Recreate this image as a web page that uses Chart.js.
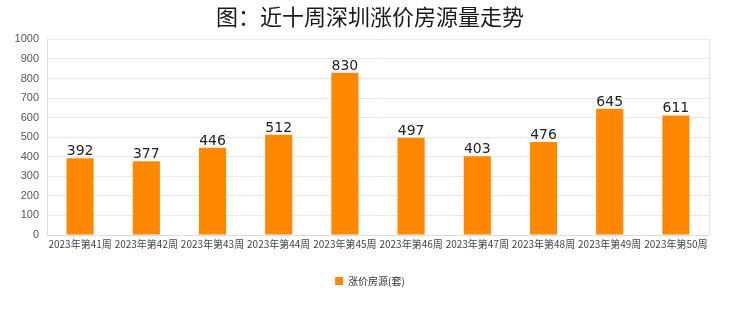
<!DOCTYPE html>
<html><head><meta charset="utf-8">
<script src="https://cdn.jsdelivr.net/npm/chart.js@4/dist/chart.umd.min.js"></script>
<style>html,body{margin:0;padding:0;background:#fff}#wrap{width:740px;height:312px}</style>
</head><body><div id="wrap"><canvas id="c" width="740" height="312"></canvas></div>
<script>
const categories = ["2023年第41周","2023年第42周","2023年第43周","2023年第44周","2023年第45周","2023年第46周","2023年第47周","2023年第48周","2023年第49周","2023年第50周"];
const values = [392,377,446,512,830,497,403,476,645,611];
const seriesName = "涨价房源(套)";
const titleText = "图：近十周深圳涨价房源量走势";

const labelPlugin = {
  id:'valLabels',
  afterDatasetsDraw(chart){
    const ctx = chart.ctx;
    const meta = chart.getDatasetMeta(0);
    ctx.save();
    ctx.font = '14px "DejaVu Sans"';
    ctx.fillStyle = '#222';
    ctx.textAlign = 'center';
    ctx.textBaseline = 'alphabetic';
    meta.data.forEach((b,i)=>{ ctx.fillText(String(values[i]), b.x, b.y - 3); });
    ctx.restore();
  }
};

new Chart(document.getElementById('c'), {
  type:'bar',
  data:{labels:categories, datasets:[{label:seriesName, data:values, backgroundColor:'#FF8800', borderWidth:0, categoryPercentage:1, barPercentage:0.41, yAxisID:'y'}]},
  options:{
    responsive:false, animation:false,
    layout:{padding:{left:0,right:0,top:0,bottom:16}},
    plugins:{
      title:{display:true, text:titleText, color:'#1a1a1a', font:{family:'"Noto Sans CJK SC"', size:22, weight:'normal'}, padding:{top:3,bottom:10}},
      legend:{position:'bottom', labels:{usePointStyle:true, pointStyle:'rect', boxWidth:8, boxHeight:8, color:'#333', font:{family:'"Noto Sans CJK SC"', size:10}}},
      tooltip:{enabled:false}
    },
    scales:{
      x:{grid:{display:false, drawTicks:false}, border:{color:'#dcdcdc'}, ticks:{color:'#444', font:{family:'"Noto Sans CJK SC"', size:10}, maxRotation:0, autoSkip:false, padding:3},
         afterFit(s){ s.height = 31; }},
      y:{min:0, max:1000, ticks:{stepSize:100, color:'#555', font:{family:'"Liberation Sans"', size:11}, padding:8, callback:(v)=>String(v)},
         grid:{color:'#e8e8e8', drawTicks:false}, border:{color:'#dcdcdc'},
         afterFit(s){ s.width = 47; }},
      y2:{position:'right', min:0, max:1000, ticks:{display:false}, grid:{display:false, drawTicks:false}, border:{display:true, color:'#e2e2e2'},
         afterFit(s){ s.width = 31; }}
    }
  },
  plugins:[labelPlugin]
});
</script></body></html>
